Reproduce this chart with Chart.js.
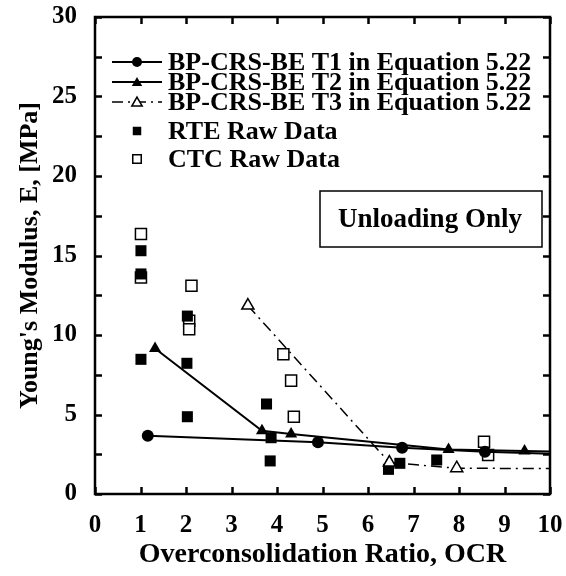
<!DOCTYPE html>
<html>
<head>
<meta charset="utf-8">
<script src="https://cdn.jsdelivr.net/npm/chart.js@4"></script>
<style>
html,body{margin:0;padding:0;background:#fff;}
#wrap{width:566px;height:576px;}
</style>
</head>
<body>
<div id="wrap"><canvas id="c" width="566" height="576"></canvas></div>
<script>
// ---- data ----
const t1X = [1.16, 4.90, 6.75, 8.57, 10];
const t1Y = [3.67, 3.25, 2.91, 2.66, 2.53];
const t2X = [1.32, 3.67, 4.31, 7.77, 9.44, 10];
const t2Y = [9.15, 3.98, 3.77, 2.80, 2.70, 2.68];
const t3X = [3.36, 6.47, 7.95, 10];
const t3Y = [11.85, 1.98, 1.62, 1.60];
const rteX = [1.01, 1.01, 1.01, 2.03, 2.02, 2.03, 3.77, 3.87, 3.85, 6.45, 6.70, 7.51];
const rteY = [15.3, 13.84, 8.47, 11.19, 8.22, 4.86, 5.66, 3.54, 2.08, 1.55, 1.93, 2.14];
const ctcX = [1.01, 1.01, 2.12, 2.07, 2.07, 4.14, 4.31, 4.37, 8.55, 8.64];
const ctcY = [16.35, 13.62, 13.1, 10.9, 10.36, 8.79, 7.13, 4.86, 3.29, 2.45];
const seriesNames = ['BP-CRS-BE T1 in Equation 5.22', 'BP-CRS-BE T2 in Equation 5.22', 'BP-CRS-BE T3 in Equation 5.22', 'RTE Raw Data', 'CTC Raw Data'];
const xTickValues = [0, 1, 2, 3, 4, 5, 6, 7, 8, 9, 10];
const yTickValues = [0, 2.5, 5, 7.5, 10, 12.5, 15, 17.5, 20, 22.5, 25, 27.5, 30];
const xTitle = 'Overconsolidation Ratio, OCR';
const yTitle = "Young's Modulus, E, [MPa]";
const boxText = 'Unloading Only';

const FONT = '"Liberation Serif", "Times New Roman", serif';
const pts = (xs, ys) => xs.map((x, i) => ({x, y: ys[i]}));
const endless = (r) => (ctx) => (ctx.raw && ctx.raw.x >= 10 ? 0 : r);

const datasets = [
  {label: seriesNames[0], data: pts(t1X, t1Y), showLine: true, borderColor: '#000', backgroundColor: '#000',
   borderWidth: 2, pointStyle: 'circle', pointRadius: endless(6), pointBorderWidth: 0, pointHoverRadius: endless(6)},
  {label: seriesNames[1], data: pts(t2X, t2Y), showLine: true, borderColor: '#000', backgroundColor: '#000',
   borderWidth: 2, pointStyle: 'triangle', pointRadius: endless(7), pointBorderWidth: 0, pointHoverRadius: endless(7)},
  {label: seriesNames[2], data: pts(t3X, t3Y), showLine: true, borderColor: '#000', backgroundColor: '#fff',
   borderWidth: 1.5, borderDash: [11, 5, 2, 5], pointStyle: 'triangle', pointRadius: endless(7), pointBorderWidth: 1.5, pointHoverRadius: endless(7)},
  {label: seriesNames[3], data: pts(rteX, rteY), showLine: false, borderColor: '#000', backgroundColor: '#000',
   pointStyle: 'rect', pointRadius: 7.8, pointBorderWidth: 0},
  {label: seriesNames[4], data: pts(ctcX, ctcY), showLine: false, borderColor: '#000', backgroundColor: '#fff',
   pointStyle: 'rect', pointRadius: 7.8, pointBorderWidth: 1.5}
];

const framePlugin = {
  id: 'frame',
  afterDraw(chart) {
    const {ctx, chartArea: {left, right, top, bottom}, scales: {x, y}} = chart;
    ctx.save();
    ctx.strokeStyle = '#000';
    ctx.lineWidth = 2.5;
    ctx.lineCap = 'butt';
    const tl = 7;
    ctx.beginPath();
    xTickValues.forEach(v => {
      const px = Math.round(x.getPixelForValue(v)) + 0.5;
      ctx.moveTo(px, bottom); ctx.lineTo(px, bottom - tl);
      ctx.moveTo(px, top); ctx.lineTo(px, top + tl);
    });
    yTickValues.forEach(v => {
      const py = Math.round(y.getPixelForValue(v)) + 0.5;
      ctx.moveTo(left, py); ctx.lineTo(left + tl, py);
      ctx.moveTo(right, py); ctx.lineTo(right - tl, py);
    });
    ctx.stroke();
    ctx.strokeRect(left, top, right - left, bottom - top);

    // legend
    const rowsY = [62, 82, 102, 131, 159];
    const lx0 = 112, lx1 = 162, mx = 137, tx = 168;
    ctx.font = 'bold 26px ' + FONT;
    ctx.textBaseline = 'middle';
    ctx.textAlign = 'left';
    chart.data.datasets.forEach((ds, i) => {
      const yy = rowsY[i];
      if (ds.showLine) {
        ctx.save();
        ctx.lineWidth = ds.borderWidth;
        ctx.setLineDash(ds.borderDash || []);
        ctx.beginPath(); ctx.moveTo(lx0, yy); ctx.lineTo(lx1, yy); ctx.stroke();
        ctx.restore();
      }
      ctx.save();
      ctx.setLineDash([]);
      ctx.fillStyle = ds.backgroundColor;
      ctx.strokeStyle = '#000';
      ctx.lineWidth = ds.pointBorderWidth || 0;
      const r = ds.pointStyle === 'circle' ? 5 : 6;
      Chart.helpers.drawPoint(ctx, {pointStyle: ds.pointStyle, radius: r, rotation: 0, borderWidth: ds.pointBorderWidth || 0}, mx, yy + (ds.pointStyle === 'triangle' ? 1 : 0));
      ctx.restore();
      ctx.fillStyle = '#000';
      ctx.fillText(ds.label, tx, yy + 1);
    });

    // "Unloading Only" box
    ctx.lineWidth = 1.5;
    ctx.strokeRect(320, 191, 222, 56);
    ctx.font = 'bold 27px ' + FONT;
    ctx.textAlign = 'center';
    ctx.fillText(boxText, 430, 220);
    ctx.restore();
  }
};

new Chart(document.getElementById('c'), {
  type: 'scatter',
  data: {datasets},
  options: {
    responsive: false,
    devicePixelRatio: 1,
    animation: false,
    layout: {padding: {top: 17, right: 16, left: 0, bottom: 0}},
    plugins: {legend: {display: false}, tooltip: {enabled: false}},
    scales: {
      x: {
        type: 'linear', min: 0, max: 10,
        afterFit(s) { s.height = 82; s.paddingLeft = 0; s.paddingRight = 0; },
        afterBuildTicks(s) { s.ticks = xTickValues.map(v => ({value: v})); },
        grid: {display: false, drawTicks: false},
        border: {display: false},
        ticks: {color: '#000', padding: 17, font: {family: FONT, size: 25, weight: 'bold'}, maxRotation: 0, autoSkip: false},
        title: {display: true, text: xTitle, color: '#000', font: {family: FONT, size: 28, weight: 'bold'}, padding: {top: 0, bottom: 4}}
      },
      y: {
        type: 'linear', min: 0, max: 30,
        afterFit(s) { s.width = 95; s.paddingTop = 0; s.paddingBottom = 0; },
        afterBuildTicks(s) { s.ticks = yTickValues.filter(v => v % 5 === 0).map(v => ({value: v})); },
        grid: {display: false, drawTicks: false},
        border: {display: false},
        ticks: {color: '#000', padding: 18, font: {family: FONT, size: 25, weight: 'bold'}, autoSkip: false},
        title: {display: true, text: yTitle, color: '#000', font: {family: FONT, size: 26, weight: 'bold'}, padding: {top: 15, bottom: 0}}
      }
    }
  },
  plugins: [framePlugin]
});
</script>
</body>
</html>
